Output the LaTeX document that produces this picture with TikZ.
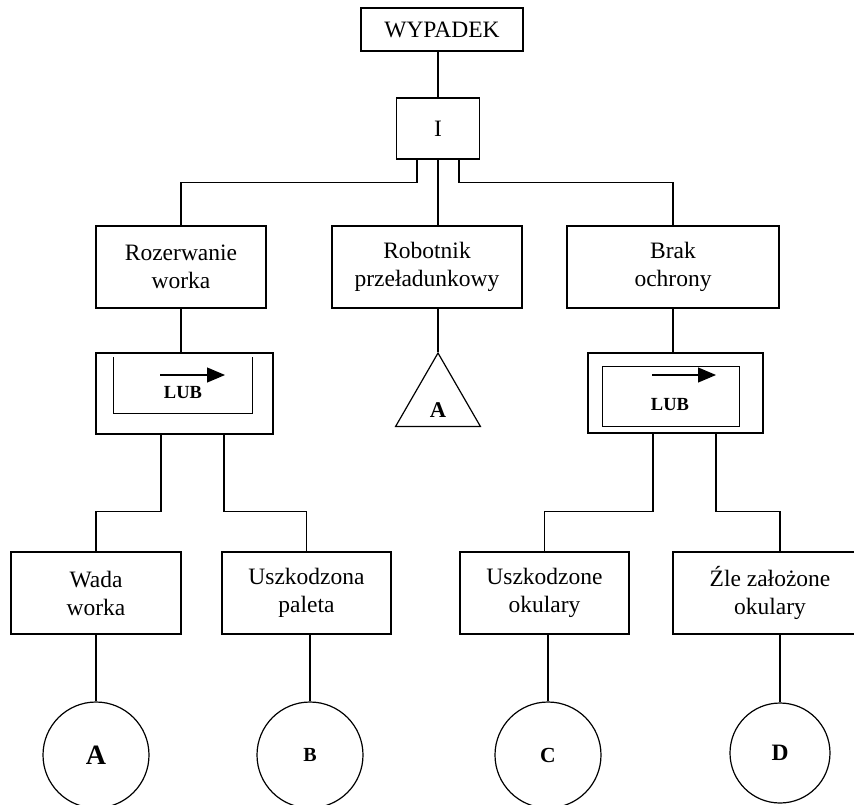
\documentclass[tikz,border=0pt]{standalone}
\usepackage{fontspec}
\setmainfont{Liberation Serif}
\usetikzlibrary{shapes.geometric,arrows.meta}

\tikzset{
  wire/.style={line width=1.2pt},
  box/.style={draw, wire, minimum width=#1, minimum height=82pt, inner sep=0pt,
    align=center, font=\fontsize{23.5}{28}\selectfont},
  gate/.style={draw, wire, minimum width=#1, minimum height=80pt, inner sep=0pt},
  event/.style={draw, circle, wire, minimum size=#1, inner sep=0pt},
  lub/.style={font=\bfseries\fontsize{18.5}{20}\selectfont, inner sep=0pt},
}

\begin{document}
\begin{tikzpicture}[x=1pt, y=-1pt]
  \useasboundingbox (0,0) rectangle (854,804);
  \clip (0,0) rectangle (854,804);

  % top event and gate I
  \node[box=162pt, minimum height=43pt] (wypadek) at (442,29.5) {WYPADEK};
  \node[box=83pt, minimum height=61pt] (i) at (438,128.5) {I};

  % second level
  \node[box=170pt] (rozerwanie) at (181,267) {Rozerwanie\\worka};
  \node[box=190pt] (robotnik) at (427,267) {Robotnik\\przeładunkowy};
  \node[box=212pt] (brak) at (673,267) {Brak\\ochrony};

  % LUB gates
  \node[gate=177pt, minimum height=81pt] (gateL) at (184.5,393.5) {};
  \draw[line width=0.9pt] (113,357) -- (113,413) -- (252,413) -- (252,357);
  \draw[line width=1.1pt, -{Triangle[length=18pt,width=15pt]}] (160,375) -- (225,375);
  \node[lub] (lubL) at (183,393) {LUB};

  \node[gate=175pt] (gateR) at (675.5,393) {};
  \draw[line width=0.9pt] (602,366) rectangle (739,426);
  \draw[line width=1.1pt, -{Triangle[length=18pt,width=15pt]}] (652,375) -- (716,375);
  \node[lub] (lubR) at (670,405) {LUB};

  % transfer triangle
  \node[draw, wire, regular polygon, regular polygon sides=3, minimum size=98pt,
    inner sep=0pt] (tri) at (438,402) {};
  \node[font=\bfseries\fontsize{22.5}{24}\selectfont, inner sep=0pt] (triA)
    at ([yshift=-8pt]tri.center) {A};

  % basic events
  \node[box=170pt] (wada) at (96,593) {Wada\\worka};
  \node[box=169pt] (paleta) at (306.5,593) {Uszkodzona\\paleta};
  \node[box=169pt] (okulary) at (544.5,593) {Uszkodzone\\okulary};
  \node[box=194pt] (zle) at (770,593) {Źle założone\\okulary};

  \node[event=106pt, font=\bfseries\fontsize{28}{30}\selectfont] (evA) at (96,755) {A};
  \node[event=106pt, font=\bfseries\fontsize{20}{22}\selectfont] (evB) at (310,755) {B};
  \node[event=106pt, font=\bfseries\fontsize{21.5}{23}\selectfont] (evC) at (548,755) {C};
  \node[event=100pt, font=\bfseries\fontsize{23.5}{25}\selectfont] (evD) at (780,753) {D};

  % connectors
  \draw[wire] (wypadek.south -| i.north) -- (i.north);
  \draw[wire] ([xshift=-21pt]i.south) -- ++(0,23) -| (rozerwanie.north);
  \draw[wire] ([xshift=21pt]i.south) -- ++(0,23) -| (brak.north);
  \draw[wire] (i.south) -- (i.south |- robotnik.north);
  \draw[wire] (robotnik.south -| tri.north) -- (tri.north);
  \draw[wire] (rozerwanie.south) -- (rozerwanie.south |- gateL.north);
  \draw[wire] (brak.south) -- (brak.south |- gateR.north);

  \draw[wire] ([xshift=-23.5pt]gateL.south) -- ++(0,77) -| (wada.north);
  \draw[wire] ([xshift=39.5pt]gateL.south) -- ++(0,77) -| (paleta.north);
  \draw[wire] ([xshift=-22.5pt]gateR.south) -- ++(0,78) -| (okulary.north);
  \draw[wire] ([xshift=40.5pt]gateR.south) -- ++(0,78) -| (evD.north |- zle.north);

  \draw[wire] (evA.north |- wada.south) -- (evA.north);
  \draw[wire] (evB.north |- paleta.south) -- (evB.north);
  \draw[wire] (evC.north |- okulary.south) -- (evC.north);
  \draw[wire] (evD.north |- zle.south) -- (evD.north);
\end{tikzpicture}
\end{document}
